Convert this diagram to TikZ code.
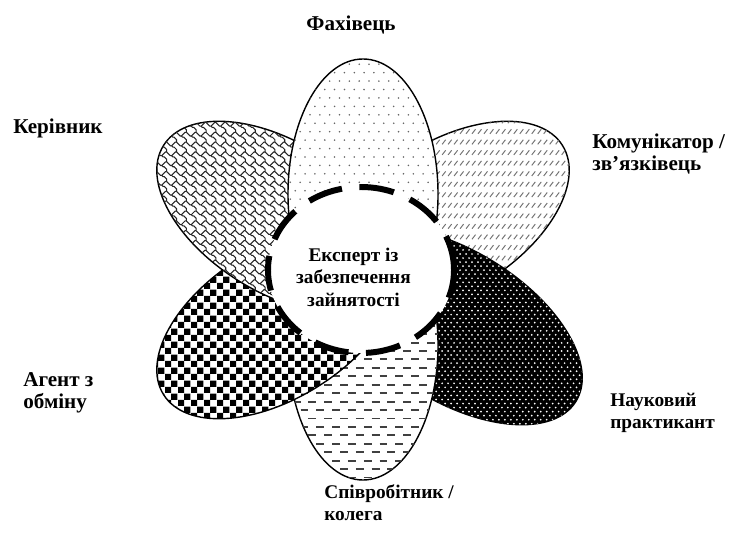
\documentclass[tikz,border=0pt]{standalone}
\usepackage{fontspec}
\setmainfont{Liberation Serif}
\usetikzlibrary{shapes.geometric, patterns}

% візерунки пелюсток
\pgfdeclarepatternformonly{dotsgrid}{\pgfqpoint{-1pt}{-1pt}}{\pgfqpoint{6.6pt}{10.6pt}}{\pgfqpoint{5.6pt}{9.6pt}}{%
    \pgfpathcircle{\pgfqpoint{0pt}{0pt}}{0.5pt}
    \pgfpathcircle{\pgfqpoint{2.8pt}{4.8pt}}{0.5pt}
    \pgfusepath{fill}}
\pgfdeclarepatternformonly{whitedots}{\pgfqpoint{-1pt}{-1pt}}{\pgfqpoint{4.4pt}{5.6pt}}{\pgfqpoint{3.4pt}{4.6pt}}{%
    \pgfpathcircle{\pgfqpoint{0pt}{0pt}}{0.55pt}
    \pgfpathcircle{\pgfqpoint{1.7pt}{2.3pt}}{0.55pt}
    \pgfusepath{fill}}
\pgfdeclarepatternformonly{updashes}{\pgfqpoint{-0.5pt}{-0.5pt}}{\pgfqpoint{3.9pt}{6.5pt}}{\pgfqpoint{3.4pt}{6pt}}{%
    \pgfsetlinewidth{0.55pt}
    \pgfpathmoveto{\pgfqpoint{0pt}{0pt}}
    \pgfpathlineto{\pgfqpoint{2pt}{2.6pt}}
    \pgfusepath{stroke}}
\pgfdeclarepatternformonly{hdashes}{\pgfqpoint{-0.5pt}{-0.8pt}}{\pgfqpoint{9.5pt}{5.6pt}}{\pgfqpoint{9pt}{9.6pt}}{%
    \pgfsetlinewidth{1.1pt}
    \pgfpathmoveto{\pgfqpoint{0pt}{0pt}}
    \pgfpathlineto{\pgfqpoint{4.5pt}{0pt}}
    \pgfpathmoveto{\pgfqpoint{4.5pt}{4.8pt}}
    \pgfpathlineto{\pgfqpoint{9pt}{4.8pt}}
    \pgfusepath{stroke}}
\pgfdeclarepatternformonly{checker}{\pgfqpoint{0pt}{0pt}}{\pgfqpoint{7.2pt}{7.2pt}}{\pgfqpoint{7.2pt}{7.2pt}}{%
    \pgfpathrectangle{\pgfqpoint{0pt}{0pt}}{\pgfqpoint{3.6pt}{3.6pt}}
    \pgfpathrectangle{\pgfqpoint{3.6pt}{3.6pt}}{\pgfqpoint{3.6pt}{3.6pt}}
    \pgfusepath{fill}}
\pgfdeclarepatternformonly{shingle}{\pgfqpoint{-1pt}{-1pt}}{\pgfqpoint{6.6pt}{6.6pt}}{\pgfqpoint{5.6pt}{5.6pt}}{%
    \pgfsetlinewidth{0.6pt}
    \pgfpathmoveto{\pgfqpoint{-0.35pt}{5.25pt}}
    \pgfpathlineto{\pgfqpoint{0.35pt}{4.55pt}}
    \pgfpathlineto{\pgfqpoint{1.75pt}{3.15pt}}
    \pgfpathlineto{\pgfqpoint{2.45pt}{3.15pt}}
    \pgfpathlineto{\pgfqpoint{3.85pt}{4.55pt}}
    \pgfpathlineto{\pgfqpoint{4.55pt}{5.25pt}}
    \pgfpathlineto{\pgfqpoint{5.25pt}{5.25pt}}
    \pgfpathmoveto{\pgfqpoint{2.45pt}{3.15pt}}
    \pgfpathlineto{\pgfqpoint{3.15pt}{2.45pt}}
    \pgfpathlineto{\pgfqpoint{3.85pt}{2.45pt}}
    \pgfpathlineto{\pgfqpoint{5.25pt}{1.05pt}}
    \pgfpathlineto{\pgfqpoint{5.25pt}{-0.35pt}}
    \pgfusepath{stroke}}

\begin{document}
\begin{tikzpicture}[
    petal/.style={ellipse, draw, thick, minimum width=5.4cm, minimum height=3cm, inner sep=0pt},
    rolename/.style={inner sep=0pt, align=left, font=\bfseries\fontsize{12}{12.5}\selectfont},
    rolesmall/.style={rolename, font=\bfseries\fontsize{11}{12.5}\selectfont}
]
    \useasboundingbox (0,0) rectangle (14.58,10.9);

    % пелюстки
    \node[petal, rotate=32, fill=white, postaction={pattern=updashes, pattern color=black!55}] (komun) at (8.96, 6.56) {};
    \node[petal, rotate=-32, minimum width=5.7cm, fill=black, postaction={pattern=whitedots, pattern color=white}] (nauk) at (9.1, 4.38) {};
    \node[petal, rotate=90, fill=white, postaction={pattern=hdashes, pattern color=black!75}] (spivr) at (7.26, 4.0) {};
    \node[petal, rotate=32, fill=white, postaction={pattern=checker, pattern color=black}] (agent) at (5.56, 4.44) {};
    \node[petal, rotate=-32, fill=white, postaction={pattern=shingle, pattern color=black!85}] (keriv) at (5.56, 6.56) {};
    \node[petal, rotate=90, fill=white, postaction={pattern=dotsgrid, pattern color=black!60}] (fakh) at (7.26, 7.02) {};

    % центр
    \node[ellipse, draw, fill=white, line width=3.4pt, dash pattern=on 0.7cm off 0.35cm,
        minimum width=3.72cm, minimum height=3.32cm] (kolo) at (7.22, 5.5) {};
    \node[align=center, inner sep=0pt, font=\bfseries\fontsize{11}{12.8}\selectfont] (ekspert) at (7.07, 5.36)
        {Експерт із\\забезпечення\\зайнятості};

    % підписи
    \node[rolename] (fakh-name) at (7.02, 10.4) {Фахівець};
    \node[rolename, anchor=west] (keriv-name) at (0.26, 8.34) {Керівник};
    \node[rolename, anchor=west] (komun-name) at (11.84, 7.82) {Комунікатор /\\зв’язківець};
    \node[rolesmall, anchor=west] (nauk-name) at (12.2, 2.65) {Науковий\\практикант};
    \node[rolename, anchor=west] (agent-name) at (0.46, 3.04) {Агент з\\обміну};
    \node[rolesmall, anchor=west] (spivr-name) at (6.48, 0.84) {Співробітник /\\колега};
\end{tikzpicture}
\end{document}
